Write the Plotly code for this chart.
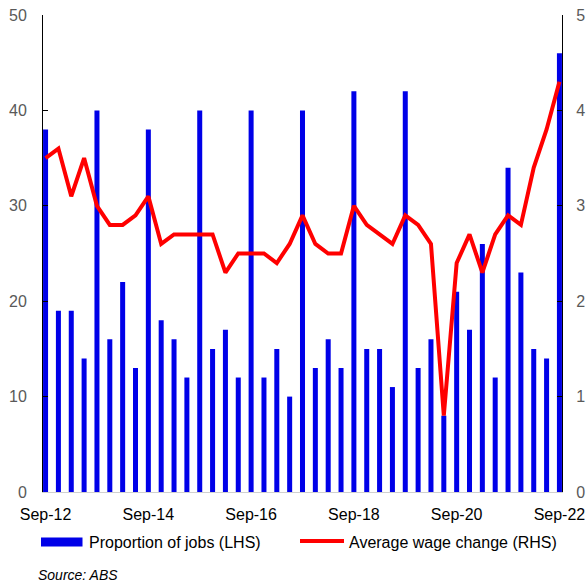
import plotly.graph_objects as go

quarters = [
    "Sep-12", "Dec-12", "Mar-13", "Jun-13", "Sep-13", "Dec-13", "Mar-14", "Jun-14",
    "Sep-14", "Dec-14", "Mar-15", "Jun-15", "Sep-15", "Dec-15", "Mar-16", "Jun-16",
    "Sep-16", "Dec-16", "Mar-17", "Jun-17", "Sep-17", "Dec-17", "Mar-18", "Jun-18",
    "Sep-18", "Dec-18", "Mar-19", "Jun-19", "Sep-19", "Dec-19", "Mar-20", "Jun-20",
    "Sep-20", "Dec-20", "Mar-21", "Jun-21", "Sep-21", "Dec-21", "Mar-22", "Jun-22",
    "Sep-22",
]
proportion_of_jobs = [
    38, 19, 19, 14, 40, 16, 22, 13, 38, 18, 16, 12, 40, 15, 17, 12,
    40, 12, 15, 10, 40, 13, 16, 13, 42, 15, 15, 11, 42, 13, 16, 8,
    21, 17, 26, 12, 34, 23, 15, 14, 46,
]
average_wage_change = [
    3.5, 3.6, 3.1, 3.5, 3.0, 2.8, 2.8, 2.9, 3.1, 2.6, 2.7, 2.7, 2.7, 2.7, 2.3, 2.5,
    2.5, 2.5, 2.4, 2.6, 2.9, 2.6, 2.5, 2.5, 3.0, 2.8, 2.7, 2.6, 2.9, 2.8, 2.6, 0.8,
    2.4, 2.7, 2.3, 2.7, 2.9, 2.8, 3.4, 3.8, 4.3,
]
x_tick_labels = ["Sep-12", "Sep-14", "Sep-16", "Sep-18", "Sep-20", "Sep-22"]
left_ticks = [0, 10, 20, 30, 40, 50]
right_ticks = [0, 1, 2, 3, 4, 5]

BLUE = "#0000e8"
RED = "#ff0000"
FONT = "Liberation Sans, Arial, sans-serif"

W, H = 588, 586
ML, MR, MT, MB = 43, 26, 15, 94
PW = W - ML - MR
PH = H - MT - MB


def px(xp):
    return (xp - ML) / PW


def py(yp):
    return (H - MB - yp) / PH


fig = go.Figure()
fig.add_trace(go.Bar(
    x=quarters, y=proportion_of_jobs, name="Proportion of jobs (LHS)",
    marker=dict(color=BLUE, line=dict(width=0)), width=0.39, yaxis="y",
    showlegend=False,
))
fig.add_trace(go.Scatter(
    x=quarters, y=average_wage_change, name="Average wage change (RHS)",
    mode="lines", line=dict(color=RED, width=4), yaxis="y2",
    showlegend=False,
))

axis_common = dict(
    showgrid=False, zeroline=False, showline=True, linecolor="black", linewidth=1,
    ticks="inside", ticklen=5, tickcolor="black", automargin=False,
    tickfont=dict(family=FONT, size=16, color="#595959"),
)

fig.update_layout(
    width=W, height=H,
    margin=dict(l=ML, r=MR, t=MT, b=MB, autoexpand=False),
    paper_bgcolor="white", plot_bgcolor="white",
    showlegend=False,
    font=dict(family=FONT, size=16, color="black"),
    xaxis=dict(
        type="category", categoryorder="array", categoryarray=quarters,
        range=[-0.2, 40.2], tickmode="array", tickvals=x_tick_labels,
        ticktext=x_tick_labels, showgrid=False, zeroline=False,
        showline=True, linecolor="#d0d0d0", linewidth=1, ticks="",
        tickangle=0, automargin=False,
        tickfont=dict(family=FONT, size=16, color="black"),
        ticklabelstandoff=8,
    ),
    yaxis=dict(range=[0, 50], tickvals=left_ticks, side="left",
               ticklabelstandoff=12, **axis_common),
    yaxis2=dict(range=[0, 5], tickvals=right_ticks, side="right",
                overlaying="y", ticklabelstandoff=10, **axis_common),
    bargap=0.6,
)

# Legend (drawn manually to match the reference swatches)
fig.add_shape(type="rect", xref="paper", yref="paper",
              x0=px(41), x1=px(82.5), y0=py(546.5), y1=py(537.5),
              fillcolor=BLUE, line=dict(width=0))
fig.add_annotation(xref="paper", yref="paper", x=px(87), y=py(542),
                   xanchor="left", yanchor="middle", showarrow=False,
                   text="Proportion of jobs (LHS)",
                   font=dict(family=FONT, size=16, color="black"))
fig.add_shape(type="line", xref="paper", yref="paper",
              x0=px(300), x1=px(344), y0=py(541), y1=py(541),
              line=dict(color=RED, width=4))
fig.add_annotation(xref="paper", yref="paper", x=px(347), y=py(542),
                   xanchor="left", yanchor="middle", showarrow=False,
                   text="Average wage change (RHS)",
                   font=dict(family=FONT, size=16, color="black"))
fig.add_annotation(xref="paper", yref="paper", x=px(36), y=py(575),
                   xanchor="left", yanchor="middle", showarrow=False,
                   text="<i>Source: ABS</i>",
                   font=dict(family=FONT, size=14, color="black"))

fig.write_html(
    "out.html",
    config={"displayModeBar": False},
    post_script="document.body.style.margin='0';document.body.style.overflow='hidden';",
)
